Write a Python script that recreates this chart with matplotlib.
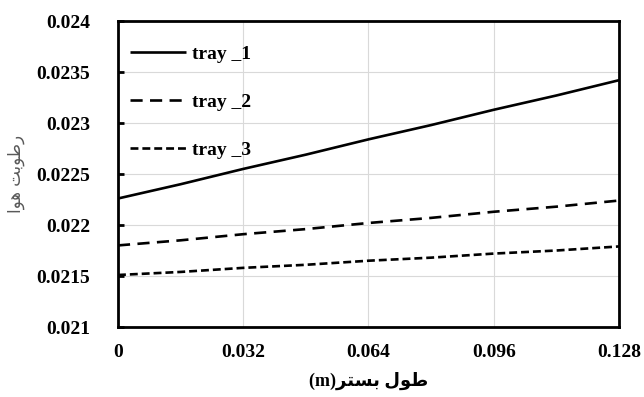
import matplotlib
matplotlib.use("Agg")
import matplotlib.pyplot as plt

# data
x_vals = [0.0, 0.016, 0.032, 0.048, 0.064, 0.080, 0.096, 0.112, 0.128]
tray_1 = [0.02226, 0.02240, 0.02255, 0.02269, 0.02284, 0.02298, 0.02313, 0.02327, 0.02342]
tray_2 = [0.02180, 0.02185, 0.02191, 0.02196, 0.02202, 0.02207, 0.02213, 0.02218, 0.02224]
tray_3 = [0.02151, 0.02154, 0.02158, 0.02161, 0.02165, 0.02168, 0.02172, 0.02175, 0.02179]
series_names = ["tray _1", "tray _2", "tray _3"]
x_ticks = [0, 0.032, 0.064, 0.096, 0.128]
x_tick_labels = ["0", "0.032", "0.064", "0.096", "0.128"]
y_ticks = [0.021, 0.0215, 0.022, 0.0225, 0.023, 0.0235, 0.024]
y_tick_labels = ["0.021", "0.0215", "0.022", "0.0225", "0.023", "0.0235", "0.024"]
# Persian labels in visual order (presentation forms): "طول بستر(m)" and "رطوبت هوا"
x_label = "(m)\uFEAE\uFE98\uFEB4\uFE91 \uFEDD\uFEEE\uFEC3"
y_label = "\uFE8D\uFEEE\uFEEB \uFE96\uFE91\uFEEE\uFEC3\uFEAD"

fam = ["Liberation Serif", "DejaVu Sans"]
plt.rcParams["font.family"] = fam

fig = plt.figure(figsize=(6.44, 3.97), dpi=100)
ax = fig.add_axes([0.1832, 0.1763, 0.778, 0.7707])

lw = 1.9
ax.plot(x_vals, tray_1, color="black", lw=lw, label=series_names[0], solid_capstyle="butt")
ax.plot(x_vals, tray_2, color="black", lw=lw, label=series_names[1], dashes=(4.6, 2.8))
ax.plot(x_vals, tray_3, color="black", lw=lw, label=series_names[2], dashes=(3.0, 1.5))

ax.set_xlim(0, 0.128)
ax.set_ylim(0.021, 0.024)
ax.set_xticks(x_ticks)
ax.set_xticklabels(x_tick_labels, fontsize=14, fontweight="bold")
ax.set_yticks(y_ticks)
ax.set_yticklabels(y_tick_labels, fontsize=14, fontweight="bold")
ax.tick_params(axis="y", direction="in", length=4, width=2, pad=20)
ax.tick_params(axis="x", length=0, pad=12)
ax.grid(True, color="#d9d9d9", lw=0.8)
ax.set_axisbelow(True)
for s in ax.spines.values():
    s.set_linewidth(2)
    s.set_color("black")

ax.set_xlabel(x_label, fontsize=13, fontweight="bold", family=fam, labelpad=8)
ax.set_ylabel(y_label, fontsize=12, color="#595959", family=["DejaVu Sans"], labelpad=8)

leg = ax.legend(loc="upper left", bbox_to_anchor=(0.0, 0.958), frameon=False,
                handlelength=2.9, handletextpad=0.3, labelspacing=1.56,
                borderaxespad=0.2,
                prop={"weight": "bold", "size": 14})

fig.savefig("out.png", dpi=100)
